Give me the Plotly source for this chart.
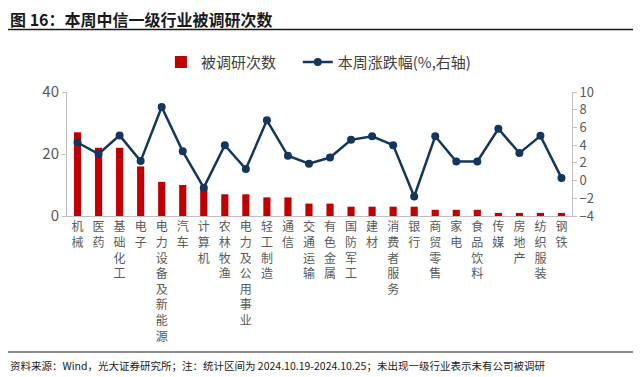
import plotly.graph_objects as go

categories = ["机械", "医药", "基础化工", "电子", "电力设备及新能源", "汽车", "计算机", "农林牧渔",
              "电力及公用事业", "轻工制造", "通信", "交通运输", "有色金属", "国防军工", "建材",
              "消费者服务", "银行", "商贸零售", "家电", "食品饮料", "传媒", "房地产", "纺织服装", "钢铁"]
survey_counts = [27, 22, 22, 16, 11, 10, 9, 7, 7, 6, 6, 4, 4, 3, 3, 3, 3, 2, 2, 2, 1, 1, 1, 1]
weekly_change = [4.3, 3.0, 5.1, 2.2, 8.3, 3.3, -0.8, 4.0, 1.3, 6.8, 2.8, 1.9, 2.6, 4.6, 5.0,
                 4.0, -1.8, 5.0, 2.15, 2.15, 5.85, 3.1, 5.05, 0.3]
left_ticks = [0, 20, 40]
right_ticks = [-4, -2, 0, 2, 4, 6, 8, 10]

font_family = "Noto Sans CJK SC"
grey = "#595959"
axis_col = "#bfbfbf"

# page has an 8px body margin; figure is sized so it fills the window
W, H = 633, 369
PL, PT, PW, PH = 59, 84, 505, 124  # plot area in figure coords

vert_labels = ["<br>".join(list(c)) for c in categories]

fig = go.Figure()
fig.add_trace(go.Bar(
    x=categories, y=survey_counts, name="被调研次数",
    marker=dict(color="#c00000", line=dict(width=0)), width=0.34, yaxis="y",
    legend="legend",
))
fig.add_trace(go.Scatter(
    x=categories, y=weekly_change, name="本周涨跌幅(%,右轴)", mode="lines+markers",
    line=dict(color="#15365c", width=2.5), marker=dict(color="#15365c", size=8),
    yaxis="y2", legend="legend2",
))

leg_common = dict(orientation="h", xanchor="left", y=1.24, yanchor="middle",
                  font=dict(size=15, color="#404040", family=font_family),
                  itemwidth=30, bgcolor="rgba(0,0,0,0)")

fig.update_layout(
    width=W, height=H,
    margin=dict(l=PL, r=W - PL - PW, t=PT, b=H - PT - PH, autoexpand=False),
    paper_bgcolor="white", plot_bgcolor="white",
    font=dict(family=font_family, color=grey),
    showlegend=True,
    legend=dict(x=0.186, **leg_common),
    legend2=dict(x=0.457, **leg_common),
    xaxis=dict(
        tickmode="array", tickvals=categories, ticktext=vert_labels, automargin=False,
        tickangle=0, tickfont=dict(size=12, color=grey, family=font_family),
        showline=True, linecolor=axis_col, linewidth=1, ticks="", showgrid=False,
        range=[-0.5, len(categories) - 0.5],
    ),
    yaxis=dict(
        range=[0, 40], tickvals=left_ticks, showgrid=False, zeroline=False, automargin=False,
        showline=True, linecolor=axis_col, linewidth=1, ticks="outside", ticklen=4,
        tickcolor=axis_col, tickfont=dict(size=15, color=grey, family=font_family),
    ),
    yaxis2=dict(
        range=[-4, 10], tickvals=right_ticks, overlaying="y", side="right", automargin=False,
        showgrid=False, zeroline=False, showline=True, linecolor=axis_col, linewidth=1,
        ticks="outside", ticklen=4, tickcolor=axis_col,
        tickfont=dict(size=13, color=grey, family=font_family),
    ),
)

def px(xf):
    return (xf - PL) / PW

def py(yf):
    return (PT + PH - yf) / PH

fig.add_annotation(text="<b>图 16：本周中信一级行业被调研次数</b>", xref="paper", yref="paper",
                   x=px(0), y=py(11), xanchor="left", yanchor="middle",
                   showarrow=False, font=dict(size=16, color="#1a1a1a", family=font_family))
fig.add_annotation(text="资料来源：Wind，光大证券研究所；注：统计区间为 2024.10.19-2024.10.25；未出现一级行业表示未有公司被调研",
                   xref="paper", yref="paper", x=px(0), y=py(357),
                   xanchor="left", yanchor="middle", showarrow=False,
                   font=dict(size=10.5, color="#1a1a1a", family=font_family))
fig.add_shape(type="line", xref="paper", yref="paper", x0=px(0), x1=px(627),
              y0=py(21.5), y1=py(21.5), line=dict(color="#1a1a1a", width=1.5))
fig.add_shape(type="line", xref="paper", yref="paper", x0=px(0), x1=px(627),
              y0=py(344), y1=py(344), line=dict(color="#1a1a1a", width=1))

fig.write_html("out.html")
